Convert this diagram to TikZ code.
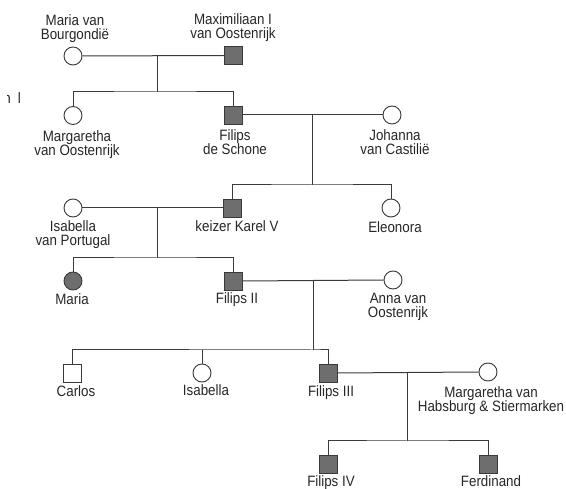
\documentclass[tikz,border=0pt]{standalone}
\usepackage{fontspec}
\setmainfont{Liberation Sans}[FakeStretch=0.89]
\definecolor{ink}{HTML}{262626}
\definecolor{lne}{HTML}{3A3A3A}
\definecolor{fillg}{HTML}{6E6E6E}
\begin{document}
\begin{tikzpicture}[x=1pt,y=-1pt,
  female/.style={circle,draw=lne,line width=0.9pt,minimum size=18pt,inner sep=0pt,fill=white},
  male/.style={rectangle,draw=lne,line width=0.9pt,minimum size=18pt,inner sep=0pt,fill=white},
  aff/.style={fill=fillg},
  lbl/.style={font=\fontsize{15}{14}\selectfont,text=ink,align=center,inner sep=0pt},
  link/.style={draw=lne,line width=1pt}]
\useasboundingbox (0,0) rectangle (566,489);
% artifact (cut-off text at the left edge)
\begin{scope}
\clip (7.5,80) rectangle (30,110);
\node[lbl,anchor=base east] (art) at (21,104) {n\hspace{7pt}l};
\end{scope}
% generation 1
\node[female] (mvb) at (73,56) {};
\node[male,aff] (max) at (233.5,55.5) {};
\node[lbl,anchor=north] (lmvb) at (75,14) {Maria van\\Bourgondië};
\node[lbl,anchor=north] (lmax) at (233,13) {Maximiliaan I\\van Oostenrijk};
% generation 2
\node[female] (marg) at (73,115.5) {};
\node[male,aff] (fds) at (233.5,115) {};
\node[female] (joh) at (392,115) {};
\node[lbl,anchor=north] (lmarg) at (77,130) {Margaretha\\van Oostenrijk};
\node[lbl,anchor=north] (lfds) at (235,129) {Filips\\de Schone};
\node[lbl,anchor=north] (ljoh) at (395,129) {Johanna\\van Castilië};
% generation 3
\node[female] (isp) at (73,208) {};
\node[male,aff] (kar) at (232.5,208) {};
\node[female] (ele) at (391,208) {};
\node[lbl,anchor=north] (lisp) at (73,220) {Isabella\\van Portugal};
\node[lbl,anchor=north] (lkar) at (237,220) {keizer Karel V};
\node[lbl,anchor=north] (lele) at (395,221) {Eleonora};
% generation 4
\node[female,aff] (mar) at (73,281) {};
\node[male,aff] (f2) at (233.5,281) {};
\node[female] (anna) at (393,280) {};
\node[lbl,anchor=north] (lmar) at (72,293) {Maria};
\node[lbl,anchor=north] (lf2) at (237,292) {Filips II};
\node[lbl,anchor=north] (lanna) at (398,293) {Anna van\\Oostenrijk};
% generation 5
\node[male] (car) at (72.5,373) {};
\node[female] (isa) at (202,373) {};
\node[male,aff] (f3) at (328,373) {};
\node[female] (mhs) at (488,372) {};
\node[lbl,anchor=north] (lcar) at (76,385) {Carlos};
\node[lbl,anchor=north] (lisa) at (206,384) {Isabella};
\node[lbl,anchor=north] (lf3) at (331,385) {Filips III};
\node[lbl,anchor=north] (lmhs) at (491,386) {Margaretha van\\Habsburg \& Stiermarken};
% generation 6
\node[male,aff] (f4) at (328,464) {};
\node[male,aff] (fer) at (488,464) {};
\node[lbl,anchor=north] (lf4) at (331,475) {Filips IV};
\node[lbl,anchor=north] (lfer) at (491,475) {Ferdinand};
% coordinates
\coordinate (m1) at (157,55.5);
\coordinate (b1) at (157,92);
\coordinate (m2) at (312.5,115);
\coordinate (b2) at (312.5,185);
\coordinate (m3) at (157,208);
\coordinate (b3) at (157,258);
\coordinate (m4) at (313,280.5);
\coordinate (b4) at (313,350);
\coordinate (m5) at (407,372.5);
\coordinate (b5) at (407,441);
% links
\draw[link] (mvb.east) -- (max.west);
\draw[link] (m1) -- (b1);
\draw[link] (marg.north) |- (b1) -| (fds.north);
\draw[link] (fds.east) -- (joh.west);
\draw[link] (m2) -- (b2);
\draw[link] (kar.north) |- (b2) -| (ele.north);
\draw[link] (isp.east) -- (kar.west);
\draw[link] (m3) -- (b3);
\draw[link] (mar.north) |- (b3) -| (f2.north);
\draw[link] (f2.east) -- (anna.west);
\draw[link] (m4) -- (b4);
\draw[link] (car.north) |- (b4) -| (f3.north);
\draw[link] (isa.north) -- (isa.north |- b4);
\draw[link] (f3.east) -- (mhs.west);
\draw[link] (m5) -- (b5);
\draw[link] (f4.north) |- (b5) -| (fer.north);
\end{tikzpicture}
\end{document}
